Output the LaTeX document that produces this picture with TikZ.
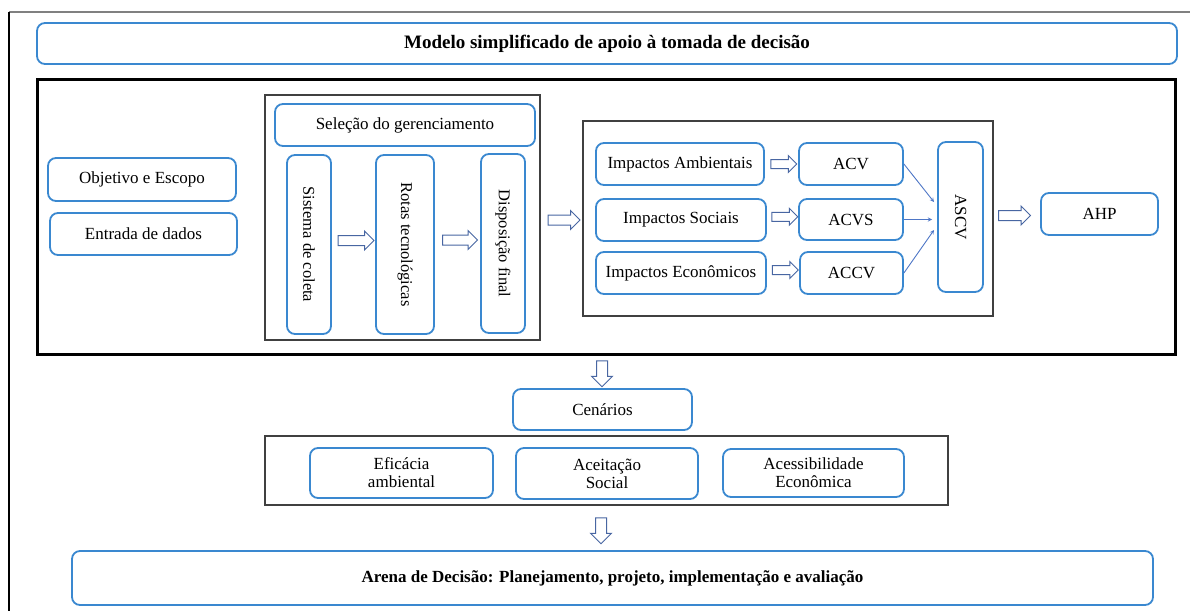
\documentclass[tikz,border=0pt]{standalone}
\usepackage{fontspec}
\setmainfont{Liberation Serif}
\usepackage{graphicx}
\usepackage{xcolor}
\usepackage{tikz}
\usetikzlibrary{arrows}
\usetikzlibrary{calc}
\usetikzlibrary{shapes.arrows}
\definecolor{boxblue}{RGB}{58,136,208}
\definecolor{arrowblue}{RGB}{72,102,162}
\definecolor{linkblue}{RGB}{78,118,198}

\begin{document}
\begin{tikzpicture}[x=1pt,y=-1pt,
    blk/.style={draw=boxblue,line width=1.8pt,rounded corners=8pt,fill=white,
      inner sep=0pt,align=center,font=\fontsize{17}{18}\selectfont},
    frame/.style={draw=black!75,line width=1.3pt,inner sep=0pt},
    harrow/.style={single arrow,draw=arrowblue,line width=1pt,fill=white,inner sep=0pt,
      text height=9pt,text depth=0pt,minimum height=36pt,single arrow head extend=4.5pt},
    sarrow/.style={harrow,text height=8pt,minimum height=26pt,single arrow head extend=4pt},
    darrow/.style={harrow,rotate=270,text height=10pt,minimum height=26pt,single arrow head extend=5pt},
    link/.style={draw=linkblue,line width=0.9pt,-stealth}]
    \useasboundingbox (0,0) rectangle (1190,611);
    \draw[gray,line width=1.2pt] (9,12) -- (1190,12);
    \draw[line width=1.2pt] (9,12) -- (9,611);

    \node[blk,minimum width=1140pt,minimum height=41pt,font=\fontsize{19}{20}\selectfont\bfseries]
      (titulo) at (607,43.5) {Modelo simplificado de apoio à tomada de decisão};

    % frames
    \node[frame,draw=black,line width=3pt,minimum width=1138pt,minimum height=275pt] (bigbox) at (606,216.5) {};
    \node[frame,minimum width=275pt,minimum height=245pt] (leftbox) at (402.5,217.5) {};
    \node[frame,minimum width=410pt,minimum height=195pt] (rightbox) at (788,218.5) {};
    \node[frame,minimum width=683pt,minimum height=69pt] (lowbox) at (606.5,470.5) {};

    \node[blk,minimum width=188pt,minimum height=43pt] (objetivo) at (142,179.5) {Objetivo e Escopo};
    \node[blk,minimum width=187pt,minimum height=42pt] (entrada) at (143.5,234) {Entrada de dados};

    \node[blk,minimum width=260pt,minimum height=42pt] (selecao) at (405,125) {Seleção do gerenciamento};
    \node[blk,minimum width=44pt,minimum height=179pt,font=\fontsize{16.5}{18}\selectfont] (coleta) at (309,244.5) {\rotatebox{-90}{Sistema de coleta}};
    \node[blk,minimum width=58pt,minimum height=179pt,font=\fontsize{16.5}{18}\selectfont] (rotas) at (405,244.5) {\rotatebox{-90}{Rotas tecnológicas}};
    \node[blk,minimum width=44pt,minimum height=179pt,font=\fontsize{16.5}{18}\selectfont] (disposicao) at (503,243.5) {\rotatebox{-90}{Disposição final}};
    \node[harrow] (a1) at ($(coleta.east)!.5!(rotas.west)+(0,-4)$) {};
    \node[harrow,minimum height=35pt] (a2) at ($(rotas.east)!.5!(disposicao.west)+(0,-4)$) {};
    \node[harrow,minimum height=32pt] (a3) at ($(leftbox.east)!.5!(rightbox.west)+(0,2)$) {};

    \node[blk,minimum width=168pt,minimum height=42pt] (amb) at (680,164) {Impactos Ambientais};
    \node[blk,minimum width=170pt,minimum height=42pt] (soc) at (681,220) {Impactos Sociais};
    \node[blk,minimum width=170pt,minimum height=42pt] (eco) at (681,273) {Impactos Econômicos};
    \node[blk,minimum width=104pt,minimum height=42pt] (acv) at (851,164) {ACV};
    \node[blk,minimum width=104pt,minimum height=41pt] (acvs) at (851,219.5) {ACVS};
    \node[blk,minimum width=103pt,minimum height=42pt] (accv) at (851.5,273) {ACCV};
    \node[blk,minimum width=45pt,minimum height=150pt] (ascv) at (960.5,217) {\rotatebox{-90}{ASCV}};
    \node[blk,minimum width=117pt,minimum height=42pt] (ahp) at (1099.5,214) {AHP};
    \node[sarrow] (b1) at ($(amb.east)!.5!(acv.west)$) {};
    \node[sarrow] (b2) at ($(soc.east)!.5!(acvs.west)+(0,-3)$) {};
    \node[sarrow] (b3) at ($(eco.east)!.5!(accv.west)+(0,-3)$) {};
    \node[harrow,minimum height=32pt] (a4) at ($(ascv.east)!.5!(ahp.west)$) {};

    \coordinate (p1) at (934,202);
    \coordinate (p2) at (932,219.5);
    \coordinate (p3) at (934,230);
    \draw[link] (acv.east) -- (p1);
    \draw[link] (acvs.east) -- (p2);
    \draw[link] (accv.east) -- (p3);

    \node[darrow] (d1) at (602,371) {};
    \node[blk,minimum width=179pt,minimum height=41pt] (cenarios) at (602.5,409.5) {Cenários};
    \node[blk,minimum width=183pt,minimum height=50pt] (eficacia) at (401.5,473) {Eficácia\\ambiental};
    \node[blk,minimum width=182pt,minimum height=51pt] (aceitacao) at (607,473.5) {Aceitação\\Social};
    \node[blk,minimum width=181pt,minimum height=48pt] (acesso) at (813.5,473) {Acessibilidade\\Econômica};
    \node[darrow] (d2) at (601,528) {};
    \node[blk,minimum width=1081pt,minimum height=54pt,font=\fontsize{17}{18}\selectfont\bfseries]
      (arena) at (612.5,578) {Arena de Decisão: Planejamento, projeto, implementação e avaliação};
  \end{tikzpicture}
\end{document}
